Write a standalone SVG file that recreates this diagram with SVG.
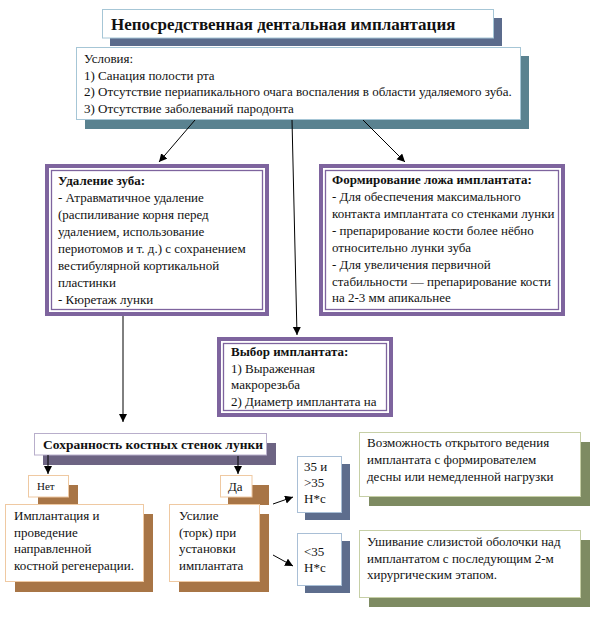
<svg xmlns="http://www.w3.org/2000/svg" width="598" height="618" viewBox="0 0 598 618">
<defs>
<marker id="ah" markerUnits="userSpaceOnUse" markerWidth="10" markerHeight="10" refX="8" refY="4" orient="auto">
<path d="M0,0 L8,4 L0,8 Z" fill="#000"/>
</marker>
<style>
text{font-family:'Liberation Serif','DejaVu Serif',serif;font-size:13px;fill:#111}
.b{font-weight:bold}
.box{fill:#fff;stroke-width:1}
.blue{stroke:#a6c6d6}
.pur{fill:#fff;stroke:#7e649e}
.tan{stroke:#efc9a2}
.lav{stroke:#b8aecb}
.olv{stroke:#c6cfa6}
.sl{stroke:#a9bfd6}
.conn{stroke:#000;stroke-width:1;fill:none}
</style>
</defs>
<rect width="598" height="618" fill="#fff"/>
<g font-family="Liberation Serif, DejaVu Serif, serif">

<g id="title">
<rect x="110" y="18" width="392" height="28" fill="#5b6b8c"/>
<rect class="box blue" x="102.5" y="9.5" width="391" height="28.5"/>
<text class="b" x="111" y="30" style="font-size:17px">Непосредственная дентальная имплантация</text>
</g>

<g id="conditions">
<rect x="85" y="56" width="444" height="73" fill="#5a8290"/>
<rect class="box blue" x="76.5" y="47.5" width="444" height="72"/>
<text x="84" y="63">Условия:</text>
<text x="84" y="80">1) Санация полости рта</text>
<text x="84" y="96">2) Отсутствие периапикального очага воспаления в области удаляемого зуба.</text>
<text x="84" y="113">3) Отсутствие заболеваний пародонта</text>
</g>

<g id="extraction">
<rect class="pur" x="47" y="166" width="220" height="148" stroke-width="4"/>
<rect class="pur" x="51.5" y="170.5" width="211" height="139" stroke-width="1.3"/>
<text class="b" x="58" y="185">Удаление зуба:</text>
<text x="58" y="202">- Атравматичное удаление</text>
<text x="58" y="219">(распиливание корня перед</text>
<text x="58" y="236">удалением, использование</text>
<text x="58" y="253">периотомов и т. д.) с сохранением</text>
<text x="58" y="270">вестибулярной кортикальной</text>
<text x="58" y="287">пластинки</text>
<text x="58" y="304">- Кюретаж лунки</text>
</g>

<g id="bed">
<rect class="pur" x="321" y="166" width="242" height="148" stroke-width="4"/>
<rect class="pur" x="325.5" y="170.5" width="233" height="139" stroke-width="1.3"/>
<text class="b" x="332" y="184">Формирование ложа имплантата:</text>
<text x="332" y="201">- Для обеспечения максимального</text>
<text x="332" y="218">контакта имплантата со стенками лунки</text>
<text x="332" y="235">- препарирование кости  более нёбно</text>
<text x="332" y="252">относительно лунки зуба</text>
<text x="332" y="269">- Для увеличения первичной</text>
<text x="332" y="286">стабильности — препарирование кости</text>
<text x="332" y="302">на 2-3 мм апикальнее</text>
</g>

<g id="choice">
<rect class="pur" x="219" y="339" width="172" height="76" stroke-width="4"/>
<rect class="pur" x="223.5" y="343.5" width="163" height="67" stroke-width="1.3"/>
<text class="b" x="231" y="356">Выбор имплантата:</text>
<text x="231" y="373">1) Выраженная</text>
<text x="231" y="389">макрорезьба</text>
<text x="231" y="406">2) Диаметр имплантата на</text>
</g>

<g id="walls">
<rect x="43" y="443" width="233" height="22" fill="#6d6483"/>
<rect class="box lav" x="34.5" y="433.5" width="232" height="21.5"/>
<text class="b" x="43" y="449" style="font-size:13.5px">Сохранность костных стенок лунки</text>
</g>

<g id="no">
<rect x="38" y="485" width="40" height="22" fill="#a87546"/>
<rect class="box tan" x="28.5" y="475.5" width="40" height="21.5"/>
<text x="37" y="490" style="font-size:11px">Нет</text>
</g>

<g id="yes">
<rect x="228" y="485" width="41" height="20" fill="#a87546"/>
<rect class="box tan" x="220.5" y="475.5" width="31.5" height="21.5"/>
<text x="228" y="491">Да</text>
</g>

<g id="gbr">
<rect x="15" y="514" width="138" height="78" fill="#a87546"/>
<rect class="box tan" x="5.5" y="504.5" width="138" height="77"/>
<text x="14" y="520">Имплантация и</text>
<text x="14" y="537">проведение</text>
<text x="14" y="553">направленной</text>
<text x="14" y="570">костной регенерации.</text>
</g>

<g id="torque">
<rect x="179" y="514" width="90" height="78" fill="#a87546"/>
<rect class="box tan" x="169.5" y="504.5" width="90" height="77"/>
<text x="179" y="520">Усилие</text>
<text x="179" y="537">(торк) при</text>
<text x="179" y="553">установки</text>
<text x="179" y="570">имплантата</text>
</g>

<g id="high">
<rect x="305" y="464" width="45" height="56" fill="#5d6d8d"/>
<rect class="box sl" x="297.5" y="456.5" width="44" height="56"/>
<text x="304" y="471">35 и</text>
<text x="304" y="487">&gt;35</text>
<text x="304" y="503">Н*с</text>
</g>

<g id="low">
<rect x="305" y="541" width="45" height="52" fill="#5d6d8d"/>
<rect class="box sl" x="297.5" y="533.5" width="44" height="52"/>
<text x="304" y="556">&lt;35</text>
<text x="304" y="572">Н*с</text>
</g>

<g id="open">
<rect x="369" y="442" width="221" height="64" fill="#7e8b62"/>
<rect class="box olv" x="359.5" y="432.5" width="221" height="64"/>
<text x="367" y="447">Возможность открытого ведения</text>
<text x="367" y="464">имплантата с формирователем</text>
<text x="367" y="481">десны или немедленной нагрузки</text>
</g>

<g id="closed">
<rect x="369" y="540" width="221" height="67" fill="#7e8b62"/>
<rect class="box olv" x="359.5" y="530.5" width="221" height="67"/>
<text x="367" y="546">Ушивание слизистой оболочки над</text>
<text x="367" y="563">имплантатом с последующим 2-м</text>
<text x="367" y="579">хирургическим этапом.</text>
</g>
</g>

<g id="connectors">
<line class="conn" x1="195" y1="120" x2="159" y2="162" marker-end="url(#ah)"/>
<line class="conn" x1="292" y1="120" x2="297" y2="335" marker-end="url(#ah)"/>
<line class="conn" x1="363" y1="120" x2="405" y2="162" marker-end="url(#ah)"/>
<line class="conn" x1="123" y1="316" x2="123" y2="422" marker-end="url(#ah)"/>
<line class="conn" x1="48" y1="455" x2="48" y2="474" stroke-width="2" marker-end="url(#ah)"/>
<line class="conn" x1="238" y1="456" x2="238" y2="474" stroke-width="2" marker-end="url(#ah)"/>
<line class="conn" x1="273" y1="504" x2="293" y2="497" marker-end="url(#ah)"/>
<line class="conn" x1="273" y1="555" x2="293" y2="566" marker-end="url(#ah)"/>
</g>
</svg>
